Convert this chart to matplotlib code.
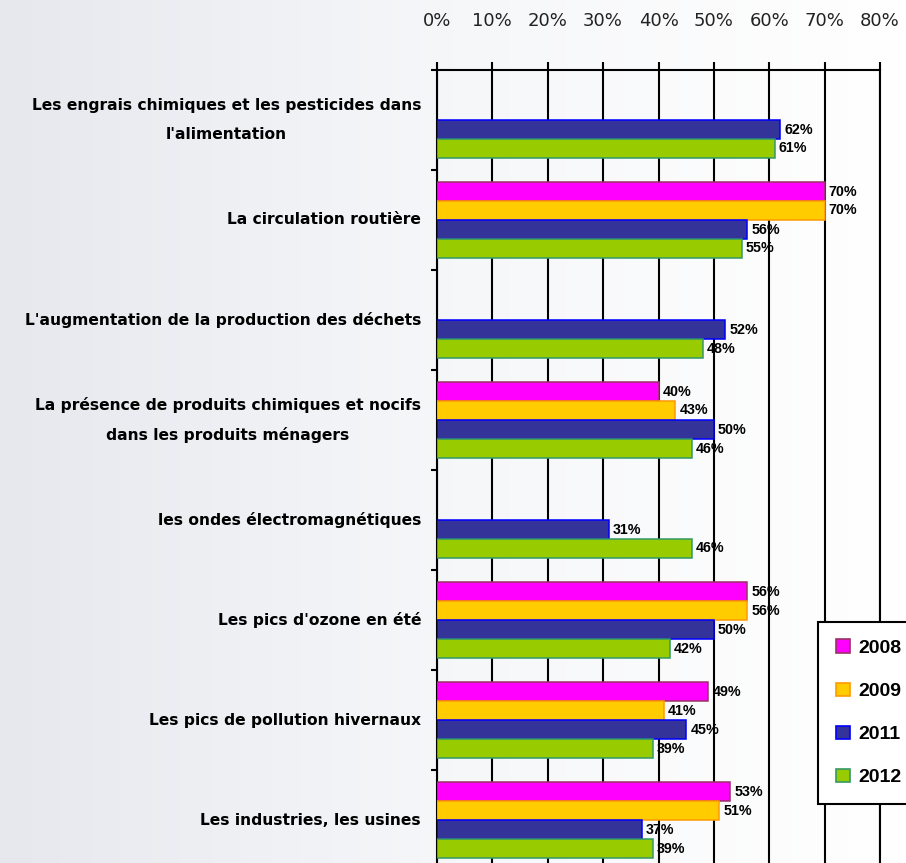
import matplotlib.pyplot as plt
import matplotlib.colors as mcolors
import numpy as np

categories = [
    "Les engrais chimiques et les pesticides dans\nl'alimentation",
    "La circulation routière",
    "L'augmentation de la production des déchets",
    "La présence de produits chimiques et nocifs\ndans les produits ménagers",
    "les ondes électromagnétiques",
    "Les pics d'ozone en été",
    "Les pics de pollution hivernaux",
    "Les industries, les usines",
]
years = ["2008", "2009", "2011", "2012"]
v2008 = [None, 70, None, 40, None, 56, 49, 53]
v2009 = [None, 70, None, 43, None, 56, 41, 51]
v2011 = [62, 56, 52, 50, 31, 50, 45, 37]
v2012 = [61, 55, 48, 46, 46, 42, 39, 39]
ticks = [0, 10, 20, 30, 40, 50, 60, 70, 80]

series = [v2008, v2009, v2011, v2012]
faces = ["#FF00FF", "#FFCC00", "#333399", "#99CC00"]
edges = ["#993366", "#FF9900", "#0000FF", "#339966"]

fig = plt.figure(figsize=(9.06, 8.63), dpi=100)

# background gradient
bg = fig.add_axes([0, 0, 1, 1], zorder=-10)
cmap = mcolors.LinearSegmentedColormap.from_list("bg", ["#e6e8ee", "#f6f7f9", "#ffffff"])
bg.imshow(np.linspace(0, 1, 256).reshape(1, -1), cmap=cmap, aspect="auto", extent=[0, 1, 0, 1])
bg.axis("off")

ax = fig.add_axes([437 / 906, -7 / 863, 443 / 906, 800 / 863])
ax.set_facecolor("none")

h = 0.19
offsets = [-1.5 * h, -0.5 * h, 0.5 * h, 1.5 * h]
y = np.arange(len(categories))
for vals, off, fc, ec in zip(series, offsets, faces, edges):
    for i, v in enumerate(vals):
        if v is None:
            continue
        ax.barh(y[i] + off, v, height=h, color=fc, edgecolor=ec, linewidth=1.1, zorder=3)
        ax.annotate(f"{v}%", (v, y[i] + off), xytext=(3, 0), textcoords="offset points",
                    va="center", ha="left", fontsize=10.3, fontweight="bold",
                    family="Liberation Sans", zorder=4)

ax.set_xlim(0, 80)
ax.set_ylim(len(categories) - 0.5, -0.5)
ax.xaxis.tick_top()
ax.set_xticks(ticks)
ax.set_xticklabels([f"{t}%" for t in ticks], fontsize=13, family="DejaVu Sans", color="#222222")
ax.tick_params(axis="x", direction="out", length=6, width=1.5, pad=23)
ax.grid(axis="x", color="black", linewidth=1.5, zorder=1)

ax.set_yticks(y)
ax.set_yticklabels(categories, fontsize=11.2, fontweight="bold", family="DejaVu Sans",
                   multialignment="center", linespacing=2.15, va="center")
ax.set_yticks(np.arange(-0.5, len(categories), 1), minor=True)
ax.tick_params(axis="y", which="major", length=0, pad=11.5)
ax.tick_params(axis="y", which="minor", length=4.5, width=1.5, direction="out")

for s in ["top", "left", "right"]:
    ax.spines[s].set_linewidth(1.5)
ax.spines["bottom"].set_visible(False)

handles = [plt.Rectangle((0, 0), 1, 1, facecolor=fc, edgecolor=ec, linewidth=1.2)
           for fc, ec in zip(faces, edges)]
leg = fig.legend(handles, years, loc="upper left", bbox_to_anchor=(818 / 906, 1 - 622 / 863),
                 prop={"family": "Liberation Sans", "weight": "bold", "size": 14},
                 frameon=True, fancybox=False, framealpha=1, edgecolor="black",
                 handlelength=0.72, handleheight=0.72, handletextpad=0.45,
                 labelspacing=1.3, borderpad=0.9, borderaxespad=0)
leg.get_frame().set_linewidth(1.5)

fig.savefig("out.png", dpi=100)
